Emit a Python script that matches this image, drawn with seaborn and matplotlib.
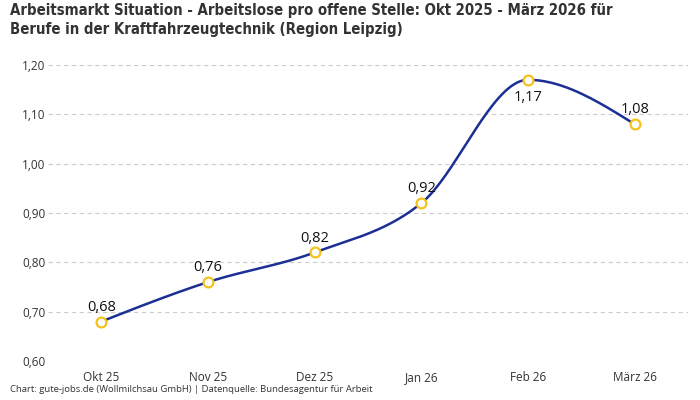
import numpy as np
import pandas as pd
import matplotlib
matplotlib.use("Agg")
import matplotlib.pyplot as plt
import seaborn as sns

# data
months = ["Okt 25", "Nov 25", "Dez 25", "Jan 26", "Feb 26", "März 26"]
ratio = [0.68, 0.76, 0.82, 0.92, 1.17, 1.08]
label_below = [False, False, False, False, True, False]
y_ticks = [0.60, 0.70, 0.80, 0.90, 1.00, 1.10, 1.20]

title = ("Arbeitsmarkt Situation - Arbeitslose pro offene Stelle: Okt 2025 - März 2026 für\n"
         "Berufe in der Kraftfahrzeugtechnik (Region Leipzig)")
footer = "Chart: gute-jobs.de (Wollmilchsau GmbH) | Datenquelle: Bundesagentur für Arbeit"

LINE = "#1c2f94"
MARK = "#f4c21b"
TXT = "#333333"


def monotone_curve(x, y, n=40):
    # monotone cubic (Fritsch-Carlson, like d3.curveMonotoneX)
    x = np.asarray(x, float)
    y = np.asarray(y, float)
    h = np.diff(x)
    s = np.diff(y) / h
    m = np.zeros_like(y)
    for i in range(1, len(y) - 1):
        if s[i - 1] * s[i] <= 0:
            m[i] = 0
        else:
            p = (s[i - 1] * h[i] + s[i] * h[i - 1]) / (h[i - 1] + h[i])
            m[i] = (np.sign(s[i - 1]) + np.sign(s[i])) * min(abs(s[i - 1]), abs(s[i]), 0.5 * abs(p))
    m[0] = (3 * s[0] - m[1]) / 2
    m[-1] = (3 * s[-1] - m[-2]) / 2
    xs, ys = [], []
    for i in range(len(x) - 1):
        t = np.linspace(0, 1, n)
        h00 = 2 * t**3 - 3 * t**2 + 1
        h10 = t**3 - 2 * t**2 + t
        h01 = -2 * t**3 + 3 * t**2
        h11 = t**3 - t**2
        xs.append(x[i] + t * h[i])
        ys.append(h00 * y[i] + h10 * h[i] * m[i] + h01 * y[i + 1] + h11 * h[i] * m[i + 1])
    return np.concatenate(xs), np.concatenate(ys)


df = pd.DataFrame({"month": months, "ratio": ratio})
df["pos"] = np.arange(len(df))

sns.set_theme(style="white")
plt.rcParams["font.family"] = ["Open Sans", "DejaVu Sans"]

fig = plt.figure(figsize=(7, 4), dpi=100)
ax = fig.add_axes([48 / 700, 39 / 400, 640 / 700, 296 / 400])

cx, cy = monotone_curve(df["pos"], df["ratio"])
sns.lineplot(x=cx, y=cy, ax=ax, color=LINE, linewidth=1.8, sort=False, zorder=3)
sns.scatterplot(data=df, x="pos", y="ratio", ax=ax, s=50, color="white",
                edgecolor=MARK, linewidth=1.6, zorder=4)

for p, v, below in zip(df["pos"], df["ratio"], label_below):
    txt = f"{v:.2f}".replace(".", ",")
    if below:
        ax.annotate(txt, (p, v), xytext=(0, -7), textcoords="offset points",
                    ha="center", va="top", fontsize=10.5, color="#111111", zorder=5)
    else:
        ax.annotate(txt, (p, v), xytext=(0, 5), textcoords="offset points",
                    ha="center", va="bottom", fontsize=10.5, color="#111111", zorder=5)

ax.set_xlim(-0.5, len(months) - 0.5)
ax.set_ylim(0.6, 1.2)
ax.set_xticks(df["pos"])
ax.set_xticklabels(months)
ax.set_yticks(y_ticks)
ax.set_yticklabels([f"{t:.2f}".replace(".", ",") for t in y_ticks])
ax.tick_params(axis="both", length=0, labelsize=8.5, colors=TXT)
ax.tick_params(axis="x", pad=7)
ax.tick_params(axis="y", pad=2)
ax.grid(axis="y", color="#cccccc", linestyle=(0, (4, 3)), linewidth=0.8)
ax.set_xlabel("")
ax.set_ylabel("")
sns.despine(ax=ax, left=True, bottom=True)

fig.text(10 / 700, 1 - 3 / 400, title, ha="left", va="top", fontsize=10.7,
         fontweight="bold", fontstretch="condensed", color=TXT,
         family=["DejaVu Sans"], linespacing=1.35)
fig.text(10 / 700, 1 - 394 / 400, footer, ha="left", va="bottom", fontsize=6.8,
         color=TXT)

fig.savefig("out.png", dpi=100)
